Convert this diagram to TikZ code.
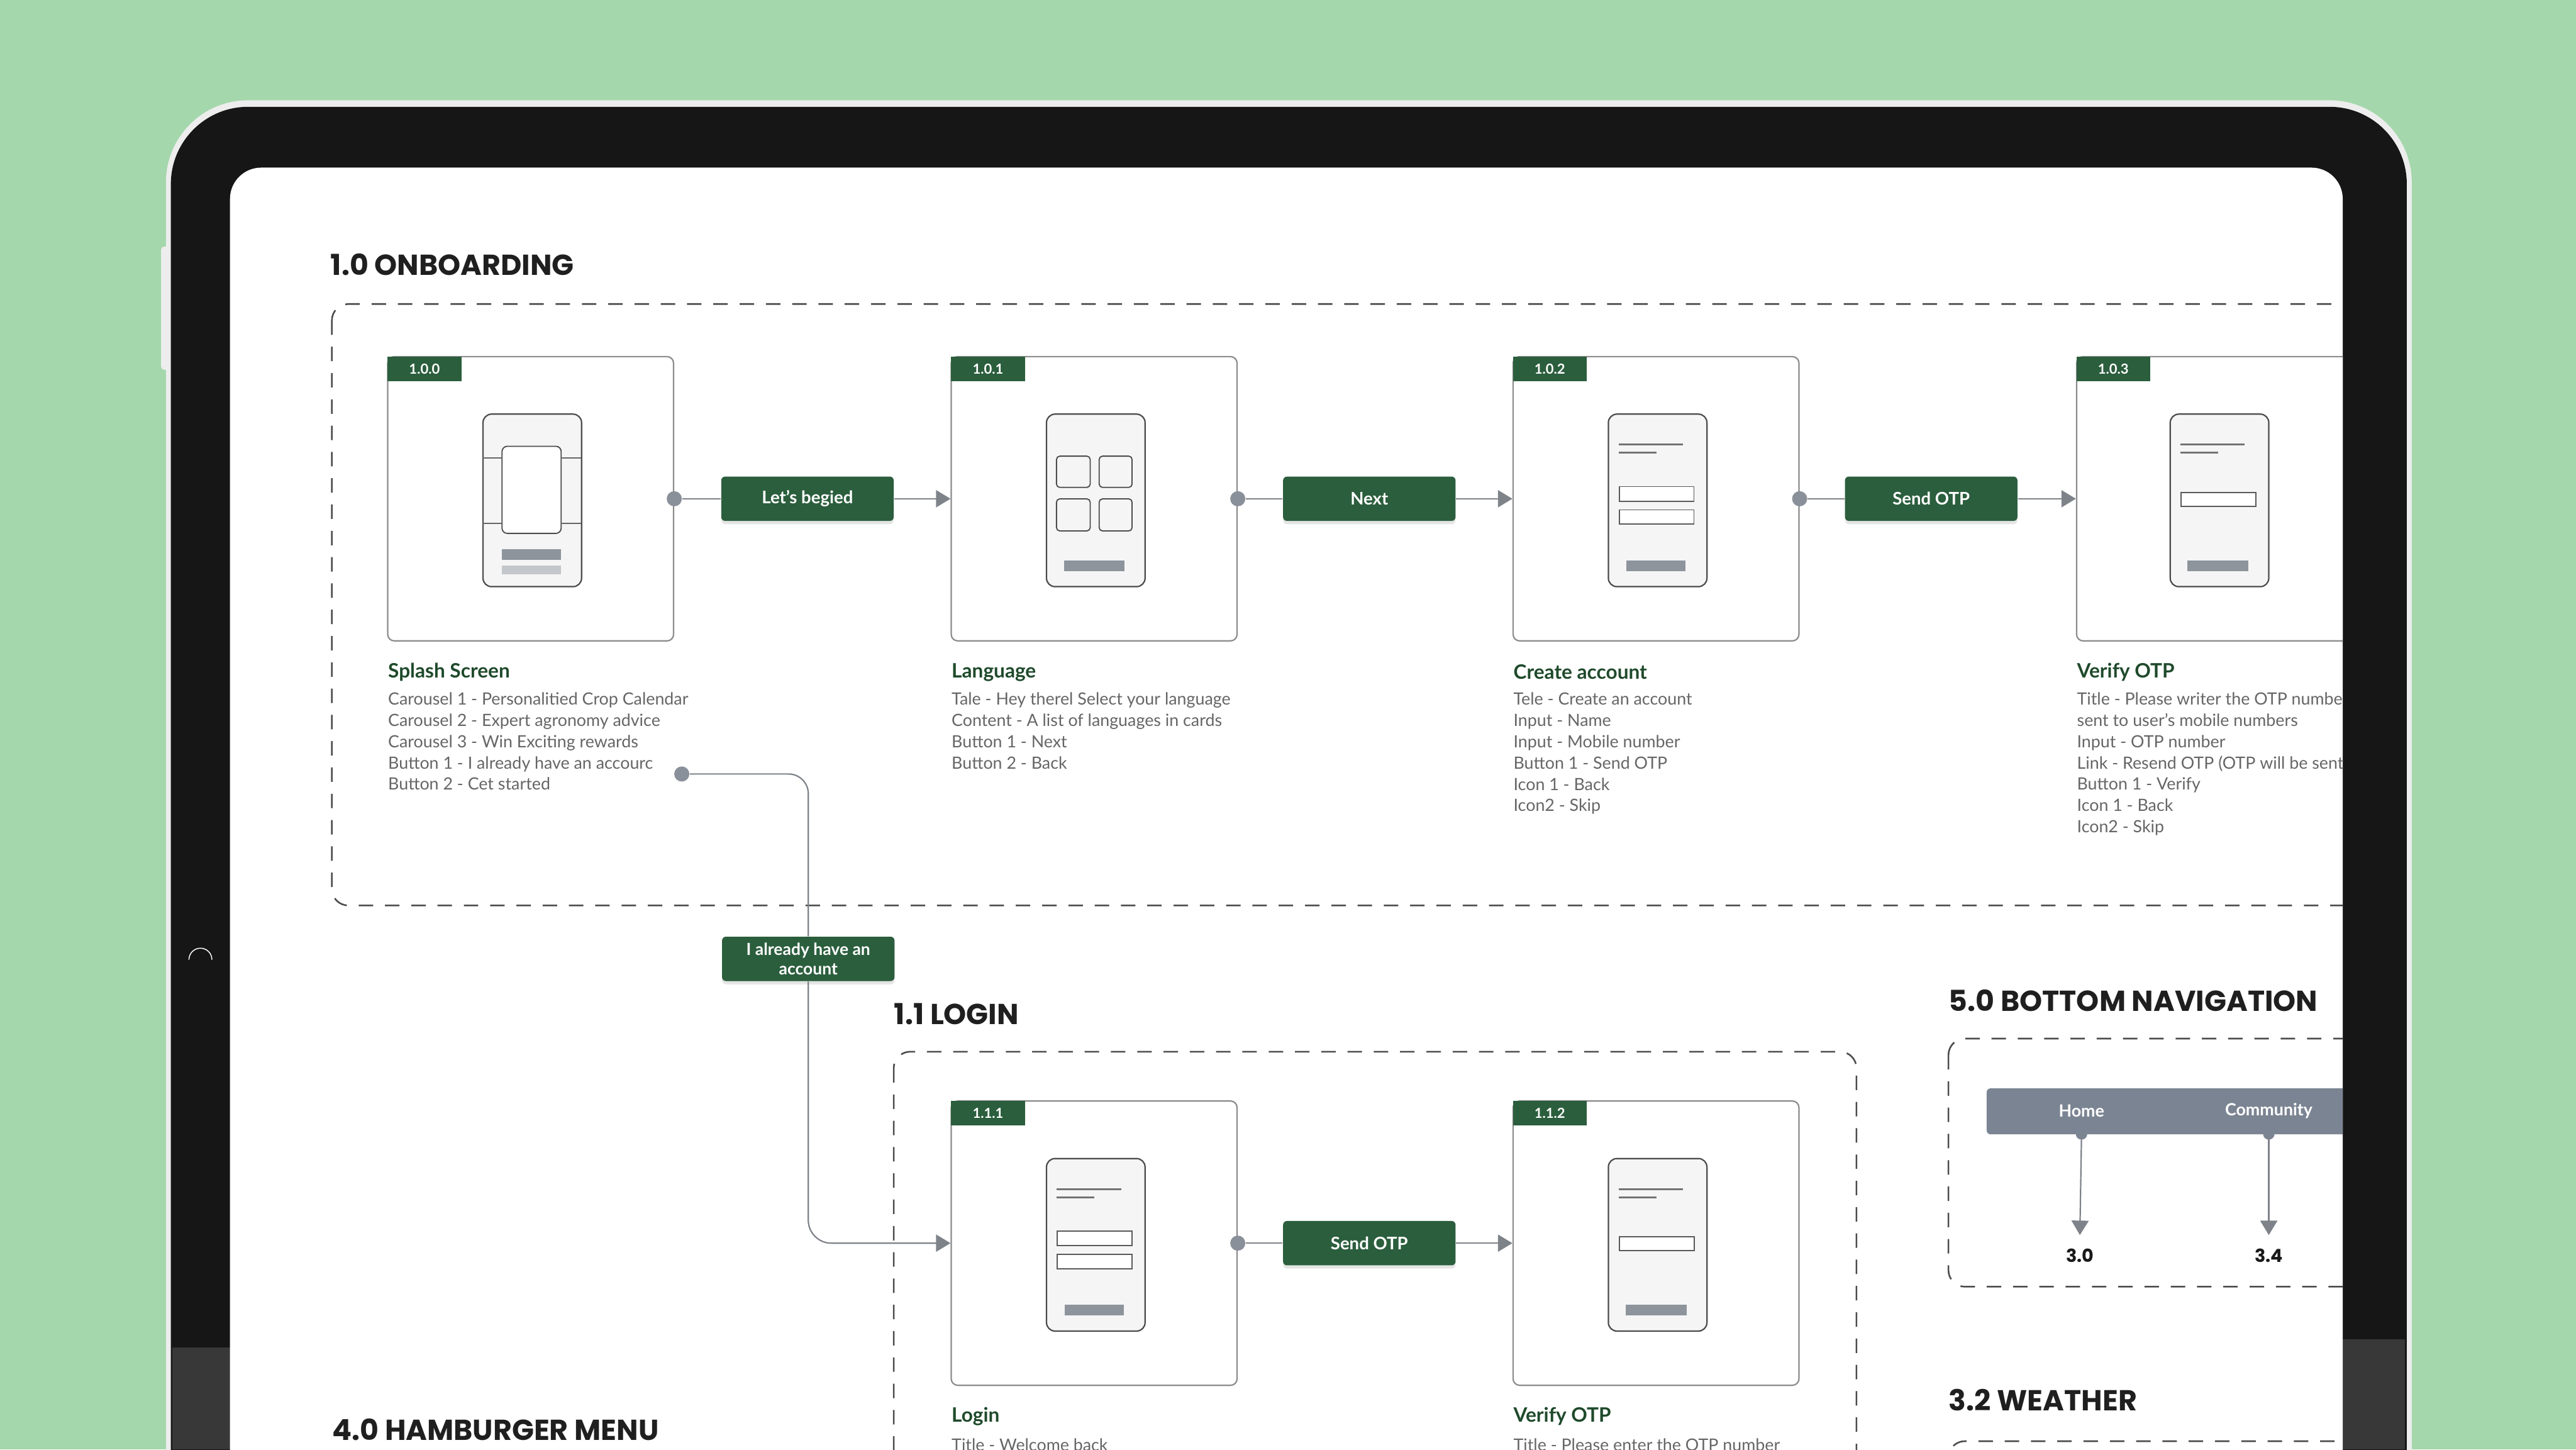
\documentclass[tikz,border=0pt]{standalone}
\usepackage{fontspec}
\setmainfont{Lato}
\newfontfamily\headfont{Poppins}
\usepackage{tikz}
\usetikzlibrary{arrows.meta,positioning,shadows}

\definecolor{bggreen}{HTML}{A4D7AC}
\definecolor{bezel}{HTML}{161616}
\definecolor{bezelgrey}{HTML}{383838}
\definecolor{rim}{HTML}{ECEDEC}
\definecolor{btngreen}{HTML}{2B5E3D}
\definecolor{ttlgreen}{HTML}{1F4A2B}
\definecolor{linegrey}{HTML}{7E838A}
\definecolor{dotgrey}{HTML}{8A9099}
\definecolor{bardark}{HTML}{8E949C}
\definecolor{barlight}{HTML}{C3C7CC}
\definecolor{navgrey}{HTML}{7B8492}

\begin{document}
\begin{tikzpicture}[x=0.25mm, y=-0.25mm]
  \tikzset{
    grp/.style={draw=black!70, line width=0.7pt, dash pattern=on 2.2mm off 1.8mm, rounded corners=2.5mm},
    card/.style={draw=black!45, fill=white, line width=0.6pt, rounded corners=1mm, minimum width=43.5mm, minimum height=43.25mm, inner sep=0pt},
    tag/.style={fill=btngreen, text=white, font=\fontsize{6}{6.5}\selectfont\bfseries, minimum width=11.25mm, minimum height=3.75mm, inner sep=0pt, anchor=north west},
    phone/.style={draw=black!70, fill=black!4, line width=0.6pt, rounded corners=1.3mm, minimum width=15mm, minimum height=26.25mm, inner sep=0pt},
    btn/.style={fill=btngreen, text=white, rounded corners=0.6mm, minimum width=26.25mm, minimum height=6.75mm, inner sep=1pt, align=center, font=\fontsize{7.5}{8.5}\selectfont\bfseries, drop shadow={shadow xshift=0pt, shadow yshift=-0.5mm, opacity=0.2}},
    hdr/.style={font=\headfont\bfseries\fontsize{12.5}{14}\selectfont, text=black!88, anchor=west, inner sep=0pt},
    ttl/.style={font=\bfseries\fontsize{8.6}{10}\selectfont, text=ttlgreen, anchor=west, inner sep=0pt},
    desc/.style={font=\fontsize{7.3}{9.24}\selectfont, text=black!60, align=left, anchor=north west, inner sep=0pt},
    dot/.style={circle, fill=dotgrey, minimum size=2.3mm, inner sep=0pt},
    conn/.style={draw=linegrey, line width=0.6pt},
    arr/.style={conn, -{Triangle[length=2.2mm, width=2.6mm]}},
    ln/.style={draw=black!55, line width=0.8pt},
    inp/.style={draw=black!65, fill=white, line width=0.5pt},
    navlbl/.style={text=white, font=\fontsize{7.3}{8}\selectfont\bfseries, inner sep=0pt},
    num/.style={text=black!90, font=\headfont\bfseries\fontsize{7.8}{9}\selectfont, inner sep=0pt}
  }

  \useasboundingbox (0,0) rectangle (1568,882);
  \fill[bggreen] (0,0) rectangle (1568,882);

  % - Tablet ---
  \begin{scope}
    \clip (0,0) rectangle (1568,882);
    \fill[rim, rounded corners=0.5mm] (98,150) rectangle (104,225);
    \fill[rim, rounded corners=12.5mm] (101,61) rectangle (1468,1000);
    \fill[bezel, rounded corners=11.75mm] (104,65) rectangle (1465,1000);
    \fill[bezelgrey] (105,820) rectangle (140,882);
    \fill[bezelgrey] (1426,815) rectangle (1464,882);
    \draw[white, line width=0.4pt] (115,584) arc[start angle=180, end angle=360, radius=7];
    \fill[white, rounded corners=4.75mm] (140,102) rectangle (1426,1000);
  \end{scope}

  \begin{scope}
    \clip (140,102) rectangle (1426,882);

    % - 1.0 Onboarding ---
    \node[hdr] (h10) at (201,161) {1.0 ONBOARDING};
    \draw[grp] (202,185) rectangle (1520,551);

    \node[card] (s0) at (323,303.5) {};
    \node[card] (s1) at (666,303.5) {};
    \node[card] (s2) at (1008,303.5) {};
    \node[card] (s3) at (1351,303.5) {};
    \node[tag] (t0) at (s0.north west) {1.0.0};
    \node[tag] (t1) at (s1.north west) {1.0.1};
    \node[tag] (t2) at (s2.north west) {1.0.2};
    \node[tag] (t3) at (s3.north west) {1.0.3};

    \node[phone] (p0) at (324,304.5) {};
    \node[phone] (p1) at (667,304.5) {};
    \node[phone] (p2) at (1009,304.5) {};
    \node[phone] (p3) at (1351,304.5) {};

    % splash phone
    \begin{scope}[shift={(p0.north west)}]
      \draw[black!70, line width=0.5pt, fill=white, rounded corners=0.8mm] (12,20) rectangle (48,73);
      \draw[black!60, line width=0.5pt] (0,27) -- (12,27) (48,27) -- (60,27) (0,67) -- (12,67) (48,67) -- (60,67);
      \fill[bardark] (12,82.5) rectangle (48,89);
      \fill[barlight] (12,92.5) rectangle (48,98);
    \end{scope}
    % language phone
    \begin{scope}[shift={(p1.north west)}]
      \draw[black!70, line width=0.5pt, rounded corners=0.5mm] (6.5,26) rectangle (27,45) (32.5,26) rectangle (52.5,45)
        (6.5,52) rectangle (27,71.5) (32.5,52) rectangle (52.5,71.5);
      \fill[bardark] (11,89.5) rectangle (48,96);
    \end{scope}
    % create account phone
    \begin{scope}[shift={(p2.north west)}]
      \draw[ln] (6.6,19) -- (45.8,19);
      \draw[ln] (6.6,24) -- (29.6,24);
      \draw[inp] (7,44.5) rectangle (52.5,53.4);
      \draw[inp] (7,58.7) rectangle (52.5,67.4);
      \fill[bardark] (11.4,89.5) rectangle (47.5,96);
    \end{scope}
    % verify phone
    \begin{scope}[shift={(p3.north west)}]
      \draw[ln] (6.6,19) -- (45.8,19);
      \draw[ln] (6.6,24) -- (29.6,24);
      \draw[inp] (7,48) rectangle (52.6,56.5);
      \fill[bardark] (11,89.5) rectangle (48,96);
    \end{scope}

    % - Onboarding flow ---
    \node[dot] (d0) at (s0.east) {};
    \node[dot] (d1) at (s1.east) {};
    \node[dot] (d2) at (s2.east) {};
    \node[btn] (b0) at (491.5,303.5) {Let’s begied};
    \node[btn] (b1) at (833.5,303.5) {Next};
    \node[btn] (b2) at (1175.5,303.5) {Send OTP};
    \draw[conn] (d0) -- (b0);
    \draw[arr] (b0) -- (s1.west);
    \draw[conn] (d1) -- (b1);
    \draw[arr] (b1) -- (s2.west);
    \draw[conn] (d2) -- (b2);
    \draw[arr] (b2) -- (s3.west);

    \node[ttl] (n0) at (236,409) {Splash Screen};
    \node[ttl] (n1) at (579,409) {Language};
    \node[ttl] (n2) at (921,409) {Create account};
    \node[ttl] (n3) at (1264,409) {Verify OTP};

    \node[desc] (x0) at (236,421) {Carousel 1 - Personalitied Crop Calendar\\Carousel 2 - Expert agronomy advice\\Carousel 3 - Win Exciting rewards\\Button 1 - I already have an accourc\\Button 2 - Cet started};
    \node[desc] (x1) at (579,421) {Tale - Hey therel Select your language\\Content - A list of languages in cards\\Button 1 - Next\\Button 2 - Back};
    \node[desc] (x2) at (921,421) {Tele - Create an account\\Input - Name\\Input - Mobile number\\Button 1 - Send OTP\\Icon 1 - Back\\Icon2 - Skip};
    \node[desc] (x3) at (1264,421) {Title - Please writer the OTP number\\sent to user's mobile numbers\\Input - OTP number\\Link - Resend OTP (OTP will be sent again)\\Button 1 - Verify\\Icon 1 - Back\\Icon2 - Skip};

    % - Login link ---
    \node[dot] (d4) at (415,471) {};
    \node[btn, font=\fontsize{7.2}{8.4}\selectfont\bfseries] (b4) at (492,583.5) {I already have an\\account};

    % - 1.1 Login ---
    \node[hdr] (h11) at (544,617) {1.1 LOGIN};
    \draw[grp] (544,640) rectangle (1130,1000);

    \node[card] (l1) at (666,756.5) {};
    \node[card] (l2) at (1008,756.5) {};
    \node[tag] (t4) at (l1.north west) {1.1.1};
    \node[tag] (t5) at (l2.north west) {1.1.2};
    \node[phone] (p4) at (667,757.5) {};
    \node[phone] (p5) at (1009,757.5) {};
    \begin{scope}[shift={(p4.north west)}]
      \draw[ln] (6.6,19) -- (45.8,19);
      \draw[ln] (6.6,24) -- (29.6,24);
      \draw[inp] (7,44.5) rectangle (52.5,53.4);
      \draw[inp] (7,58.7) rectangle (52.5,67.4);
      \fill[bardark] (11.4,89.5) rectangle (47.5,96);
    \end{scope}
    \begin{scope}[shift={(p5.north west)}]
      \draw[ln] (6.6,19) -- (45.8,19);
      \draw[ln] (6.6,24) -- (29.6,24);
      \draw[inp] (7,48) rectangle (52.6,56.5);
      \fill[bardark] (11,89.5) rectangle (48,96);
    \end{scope}

    \draw[conn, rounded corners=3mm] (d4) -| (b4);
    \draw[arr, rounded corners=3.5mm] (b4) |- (l1.west);

    \node[dot] (d5) at (l1.east) {};
    \node[btn] (b5) at (833.5,756.5) {Send OTP};
    \draw[conn] (d5) -- (b5);
    \draw[arr] (b5) -- (l2.west);

    \node[ttl] (n4) at (579,862) {Login};
    \node[ttl] (n5) at (921,862) {Verify OTP};
    \node[desc] (x4) at (579,875) {Title - Welcome back};
    \node[desc] (x5) at (921,875) {Title - Please enter the OTP number};

    % - 4.0 Hamburger menu ---
    \node[hdr] (h40) at (202,870) {4.0 HAMBURGER MENU};

    % - 5.0 Bottom navigation ---
    \node[hdr] (h50) at (1186,609) {5.0 BOTTOM NAVIGATION};
    \draw[grp] (1186,632) rectangle (1520,783);
    \node[fill=navgrey, rounded corners=0.6mm, minimum width=75mm, minimum height=7mm, inner sep=0pt, anchor=north west] (nav) at (1209,662) {};
    \node[navlbl] (home) at (1267,676) {Home};
    \node[navlbl] (comm) at (1381,676) {Community};
    \fill[navgrey] (1267,690) circle[radius=3.5];
    \fill[navgrey] (1381,690) circle[radius=3.5];
    \node[num] (r30) at (1266,764) {3.0};
    \node[num] (r34) at (1381,764) {3.4};
    \draw[arr] (home |- nav.south) -- ([yshift=2mm]r30.north);
    \draw[arr] (comm |- nav.south) -- ([yshift=2mm]r34.north);

    % - 3.2 Weather ---
    \node[hdr] (h32) at (1186,852) {3.2 WEATHER};
    \draw[grp] (1186,877) rectangle (1520,1000);
  \end{scope}
\end{tikzpicture}
\end{document}
